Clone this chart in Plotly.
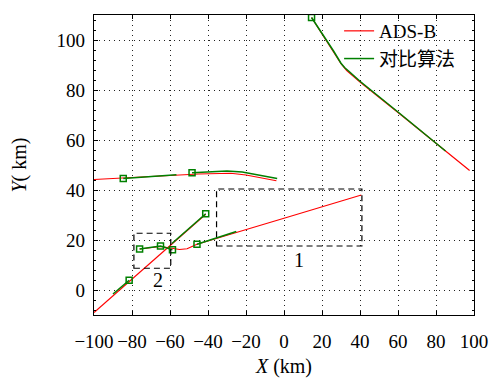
import plotly.graph_objects as go

# ---- data ----
# ADS-B tracks (red)
r1_x = [14.5, 20, 26, 30, 33, 40, 60, 80, 97.7]
r1_y = [109, 102.5, 95.5, 90.5, 87.8, 83.2, 71.0, 58.7, 47.8]
r2_x = [-100, -85, -70, -55, -45, -35, -28, -20, -12, -4]
r2_y = [44.2, 44.7, 45.3, 46.0, 46.4, 46.7, 46.7, 46.0, 44.9, 43.7]
r3_x = [-100, -41.2]
r3_y = [-9, 30.3]
r4_x = [-76, -65, -59, -55, -51, -45.8, 0, 40.7]
r4_y = [16.4, 17.4, 16.7, 16.2, 16.5, 18.3, 28.7, 38.0]

# comparison algorithm tracks (green)
g1_x = [14.5, 20, 26, 30, 32, 34, 40, 60, 85]
g1_y = [109, 102.7, 95.7, 90.7, 88.9, 87.6, 83.5, 71.2, 55.6]
g2a_x = [-84.6, -70, -56.6]
g2a_y = [44.6, 45.4, 46.1]
g2b_x = [-48.4, -40, -30, -22, -12, -3.6]
g2b_y = [46.9, 47.3, 47.6, 47.2, 45.8, 44.6]
g3a_x = [-90, -81.5]
g3a_y = [-1.6, 3.9]
g3b_x = [-59, -41.2]
g3b_y = [18.6, 30.5]
g4a_x = [-76, -65, -58.7]
g4a_y = [16.4, 17.6, 16.1]
g4b_x = [-45.8, -35, -25.1]
g4b_y = [18.3, 20.9, 23.4]

# square markers (track end points)
mk_x = [14.5, -84.6, -48.4, -81.5, -41.2, -76, -65, -58.7, -45.8]
mk_y = [109, 44.6, 46.9, 3.9, 30.5, 16.4, 17.6, 16.1, 18.3]

# dashed zoom boxes: [x0, x1, y0, y1]
box1 = [-35.5, 41, 17.6, 40.4]
box2 = [-79, -59.6, 8.7, 22.7]
box_labels = ["1", "2"]
box_label_x = [8, -66.5]
box_label_y = [12, 4]

x_ticks = [-100, -80, -60, -40, -20, 0, 20, 40, 60, 80, 100]
y_ticks = [0, 20, 40, 60, 80, 100]

RED = "#ff0000"
GREEN = "#008000"
FONT = "Liberation Serif, Noto Sans CJK SC, serif"

fig = go.Figure()

reds = [(r1_x, r1_y), (r2_x, r2_y), (r3_x, r3_y), (r4_x, r4_y)]
for i, (x, y) in enumerate(reds):
    fig.add_trace(go.Scatter(x=x, y=y, mode="lines", line=dict(color=RED, width=1.2),
                             name="ADS-B", legendgroup="r", showlegend=(i == 0)))

greens = [(g1_x, g1_y), (g2a_x, g2a_y), (g2b_x, g2b_y), (g3a_x, g3a_y),
          (g3b_x, g3b_y), (g4a_x, g4a_y), (g4b_x, g4b_y)]
for i, (x, y) in enumerate(greens):
    fig.add_trace(go.Scatter(x=x, y=y, mode="lines", line=dict(color=GREEN, width=1.5),
                             name="对比算法", legendgroup="g", showlegend=(i == 0)))

fig.add_trace(go.Scatter(x=mk_x, y=mk_y, mode="markers", showlegend=False,
                         marker=dict(symbol="square-open", size=6, color=GREEN,
                                     line=dict(width=1.5, color=GREEN))))

for b in (box1, box2):
    fig.add_shape(type="rect", x0=b[0], x1=b[1], y0=b[2], y1=b[3],
                  line=dict(color="black", width=1.2, dash="6px,4px"))

for t, x, y in zip(box_labels, box_label_x, box_label_y):
    fig.add_annotation(x=x, y=y, text=t, showarrow=False,
                       font=dict(family=FONT, size=20, color="black"))

axis_common = dict(showline=True, linecolor="black", linewidth=1.3, mirror="ticks",
                   ticks="inside", ticklen=4, tickcolor="black", automargin=False,
                   showgrid=True, gridcolor="#222", griddash="1px,4px", gridwidth=1.2,
                   zeroline=False, tickangle=0,
                   tickfont=dict(family=FONT, size=19, color="black"))

fig.update_xaxes(range=[-100, 100], tickvals=x_ticks,
                 ticktext=[("−" + str(-v)) if v < 0 else str(v) for v in x_ticks],
                 ticklabelstandoff=9,
                 title=dict(text="<i>X</i> (km)", font=dict(family=FONT, size=20, color="black"),
                            standoff=16),
                 **axis_common)
fig.update_yaxes(range=[-10, 110], tickvals=y_ticks,
                 ticklabelstandoff=4,
                 minor=dict(ticks="inside", ticklen=2, dtick=4, tickcolor="black", showgrid=False),
                 title=dict(text="<i>Y</i>( km)", font=dict(family=FONT, size=20, color="black"),
                            standoff=24),
                 **axis_common)

fig.update_layout(
    width=492, height=378,
    margin=dict(l=94, r=18, t=15, b=63),
    plot_bgcolor="white", paper_bgcolor="white",
    font=dict(family=FONT, size=20, color="black"),
    legend=dict(x=0.645, y=1.01, xanchor="left", yanchor="top", bgcolor="rgba(255,255,255,0)",
                font=dict(family=FONT, size=19), tracegroupgap=0, itemwidth=30),
)

fig.write_html("out.html")
